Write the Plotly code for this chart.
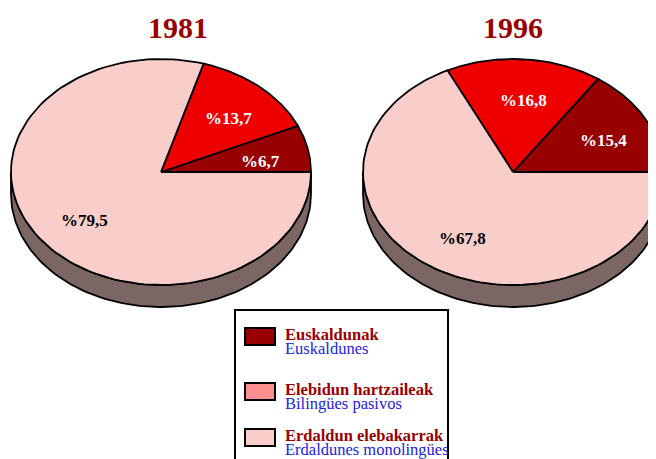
import numpy as np
import plotly.express as px
import plotly.graph_objects as go


__all__ = ["LanguageCharts"]


class LanguageCharts:
    _data = None

    def __init__(self, data):
        self._data = data

        # Categories and colours of the slices
        self.groups = list(next(iter(data.values())).keys())
        self.colors = ["#990000", "#EE0000", "#F9CDCA"]
        self.legend_colors = ["#990000", "#FF8F8F", "#F9CDCA"]
        self.spanish = ["Euskaldunes", "Bilingües pasivos", "Erdaldunes monolingües"]

    def get_data(self):
        return dict(self._data)

    def draw_pie(self, fig, year, cx, cy, title_x, rx=150, ry=113, depth=22):
        values = np.array(list(self.get_data()[year].values()))
        shares = values / values.sum()

        # Side of the "3D" pie (only the lower half is visible)
        t = np.linspace(np.pi, 2 * np.pi, 120)
        top_x, top_y = cx + rx * np.cos(t), cy - ry * np.sin(t)
        fig.add_trace(
            go.Scatter(
                x=np.concatenate([top_x, top_x[::-1], top_x[:1]]),
                y=np.concatenate([top_y, top_y[::-1] + depth, top_y[:1]]),
                fill="toself",
                fillcolor="#7B6663",
                line=dict(color="black", width=1.8),
                mode="lines",
                hoverinfo="skip",
            )
        )

        # Slices, counter-clockwise from 3 o'clock
        bounds = np.concatenate([[0], np.cumsum(shares)]) * 2 * np.pi
        for name, color, a0, a1 in zip(self.groups, self.colors, bounds[:-1], bounds[1:]):
            t = np.linspace(a0, a1, 120)
            fig.add_trace(
                go.Scatter(
                    x=np.concatenate([[cx], cx + rx * np.cos(t), [cx]]),
                    y=np.concatenate([[cy], cy - ry * np.sin(t), [cy]]),
                    fill="toself",
                    fillcolor=color,
                    line=dict(color="black", width=1.8),
                    mode="lines",
                    name=name,
                    hoverinfo="name",
                )
            )

        fig.add_annotation(
            x=title_x, y=27, text=f"<b>{year}</b>", showarrow=False,
            font=dict(family="Liberation Serif", size=30, color="#990000"),
        )

    def figure(self, label_positions):
        fig = go.Figure()

        self.draw_pie(fig, "1981", 161, 172, title_x=178)
        self.draw_pie(fig, "1996", 513, 172, title_x=513)

        # Percentage labels
        for year, positions in label_positions.items():
            for (x, y), name in zip(positions, self.groups):
                value = self.get_data()[year][name]
                fig.add_annotation(
                    x=x, y=y, text="<b>%" + f"{value}".replace(".", ",") + "</b>",
                    showarrow=False,
                    font=dict(
                        family="Liberation Serif", size=17,
                        color="black" if name == self.groups[-1] else "white",
                    ),
                )

        # Legend box
        fig.add_shape(
            type="rect", x0=235, y0=310, x1=448, y1=475,
            line=dict(color="black", width=2), fillcolor="white", layer="below",
        )
        for i, (name, spanish, color) in enumerate(zip(self.groups, self.spanish, self.legend_colors)):
            y_top = [328, 383, 429][i]
            fig.add_shape(
                type="rect", x0=245, y0=y_top, x1=275, y1=y_top + 17,
                line=dict(color="black", width=2), fillcolor=color,
            )
            fig.add_annotation(
                x=284, y=y_top + 6, text=f"<b>{name}</b>", xanchor="left", showarrow=False,
                borderpad=0,
                font=dict(family="Liberation Serif", size=16.5, color="#990000"),
            )
            fig.add_annotation(
                x=284, y=y_top + 20, text=spanish, xanchor="left", showarrow=False,
                borderpad=0,
                font=dict(family="Liberation Serif", size=16.5, color="#2222DD"),
            )

        # The page adds an 8px margin: keep the figure inside the window
        fig.update_xaxes(range=[8, 656], visible=False)
        fig.update_yaxes(range=[459, 8], visible=False)
        fig.update_layout(
            width=648, height=451,
            margin=dict(l=0, r=0, t=0, b=0),
            plot_bgcolor="white", paper_bgcolor="white",
            showlegend=False,
        )

        return fig


data = {
    "1981": {"Euskaldunak": 6.7, "Elebidun hartzaileak": 13.7, "Erdaldun elebakarrak": 79.5},
    "1996": {"Euskaldunak": 15.4, "Elebidun hartzaileak": 16.8, "Erdaldun elebakarrak": 67.8},
}

label_positions = {
    "1981": [(260, 161), (228, 118), (84, 220)],
    "1996": [(603, 140), (523, 100), (462, 238)],
}

charts = LanguageCharts(data)
fig = charts.figure(label_positions)
fig.write_html("out.html")
